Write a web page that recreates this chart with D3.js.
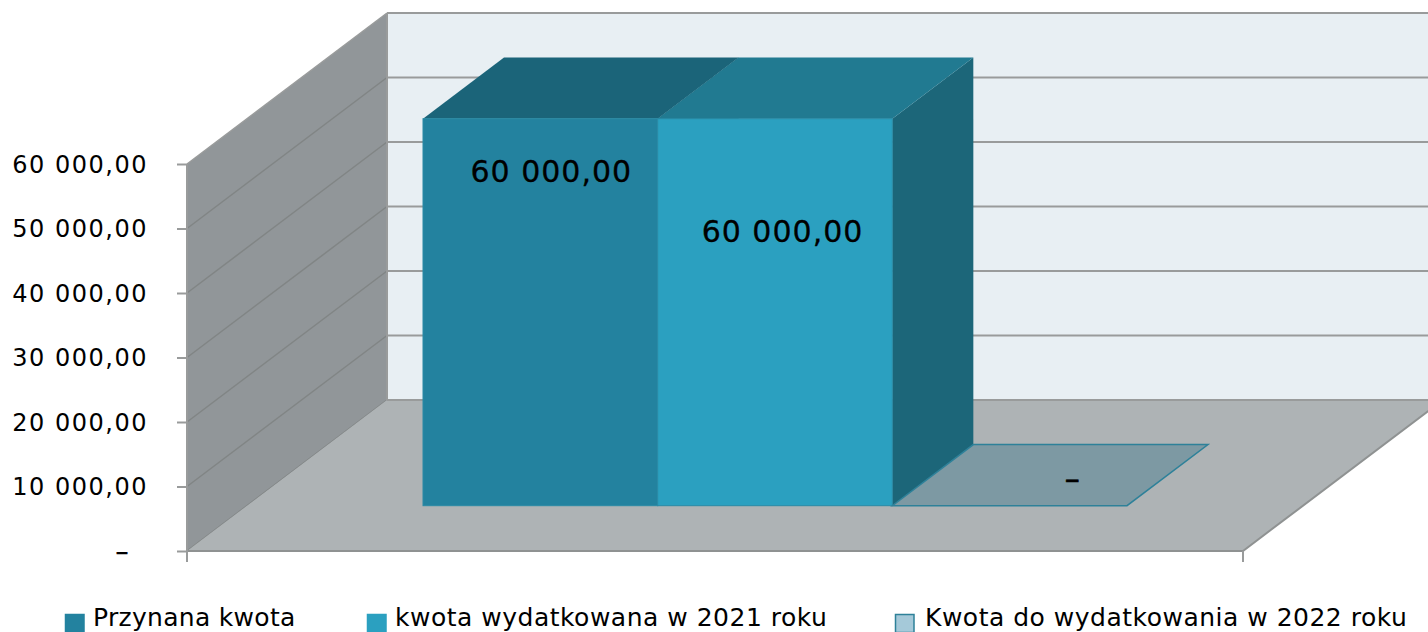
<!DOCTYPE html>
<html>
<head>
<meta charset="utf-8">
<script src="https://cdn.jsdelivr.net/npm/d3@7"></script>
<style>
  html, body { margin: 0; padding: 0; background: #fff; overflow: hidden; }
  text { font-family: "DejaVu Sans", sans-serif; fill: #000; }
</style>
</head>
<body>
<div id="chart"></div>
<script>
// data
const series = ["Przynana kwota", "kwota wydatkowana w 2021 roku", "Kwota do wydatkowania w 2022 roku"];
const values = [60000, 60000, 0];
const tickValues = [0, 10000, 20000, 30000, 40000, 50000, 60000];
const tickLabels = ["–", "10 000,00", "20 000,00", "30 000,00", "40 000,00", "50 000,00", "60 000,00"];
const valueLabels = ["60 000,00", "60 000,00", "–"];

const width = 1428, height = 632;

// the 3d box: front plane plus how far the back wall is shifted
const margin = ({top: 164, left: 187, right: 1243, bottom: 551});
const depthX = 200, depthY = -151;
const barDepthFront = 0.3, barDepthBack = 0.705;

const frontColors = ["#23829f", "#2ba0c0", "#a5c9d9"];
const topColors = ["#1b6479", "#217a91", "#7d99a3"];
const sideColor = "#1c6679";
const gridColor = "#999b9b";
const wallLineColor = "#818585";

const svg = d3.select("#chart").append("svg")
    .attr("width", width)
    .attr("height", height)
    .attr("viewBox", [0, 0, width, height])
    .style("display", "block");

const y = d3.scaleLinear().domain([0, 60000]).range([margin.bottom, margin.top]);
const x = d3.scaleBand().domain(series).range([margin.left, margin.right]).paddingOuter(0.75).paddingInner(0);

// front plane coordinate -> point at some depth (0 front, 1 back)
const pt = (px, py, d) => [px + d * depthX, py + d * depthY];
const poly = pts => pts.map(p => p.join(",")).join(" ");

// back wall
svg.append("polygon")
    .attr("points", poly([pt(margin.left, y(60000), 1), pt(margin.right + 200, y(60000), 1), pt(margin.right + 200, y(0), 1), pt(margin.left, y(0), 1)]))
    .attr("fill", "#e8eff3");

// left wall
svg.append("polygon")
    .attr("points", poly([pt(margin.left, y(60000), 0), pt(margin.left, y(60000), 1), pt(margin.left, y(0), 1), pt(margin.left, y(0), 0)]))
    .attr("fill", "#919699");

// gridlines on back wall
svg.append("g").selectAll("line")
    .data(tickValues)
    .join("line")
    .attr("x1", pt(margin.left, 0, 1)[0])
    .attr("x2", pt(margin.right + 200, 0, 1)[0])
    .attr("y1", d => pt(0, y(d), 1)[1])
    .attr("y2", d => pt(0, y(d), 1)[1])
    .attr("stroke", gridColor)
    .attr("stroke-width", 2);

// and on the left wall
svg.append("g").selectAll("line")
    .data(tickValues)
    .join("line")
    .attr("x1", pt(margin.left, 0, 0)[0])
    .attr("x2", pt(margin.left, 0, 1)[0])
    .attr("y1", d => pt(0, y(d), 0)[1])
    .attr("y2", d => pt(0, y(d), 1)[1])
    .attr("stroke", d => d === 60000 ? gridColor : wallLineColor)
    .attr("stroke-width", 1.5);

svg.append("line")
    .attr("x1", pt(margin.left, 0, 1)[0]).attr("x2", pt(margin.left, 0, 1)[0])
    .attr("y1", pt(0, y(60000), 1)[1]).attr("y2", pt(0, y(0), 1)[1])
    .attr("stroke", gridColor).attr("stroke-width", 2);

// floor
svg.append("polygon")
    .attr("points", poly([pt(margin.left, y(0), 0), pt(margin.right, y(0), 0), pt(margin.right, y(0), 1), pt(margin.left, y(0), 1)]))
    .attr("fill", "#aeb3b5");

// floor edges that show over the fill
svg.append("polyline")
    .attr("points", poly([pt(margin.left, y(0), 1), pt(margin.right, y(0), 1)]))
    .attr("fill", "none").attr("stroke", gridColor).attr("stroke-width", 2);
svg.append("polyline")
    .attr("points", poly([pt(margin.left, y(0), 0), pt(margin.right, y(0), 0), pt(margin.right, y(0), 1)]))
    .attr("fill", "none").attr("stroke", "#8f9292").attr("stroke-width", 2);

// axes
const yAxis = d3.axisLeft(y)
    .tickValues(tickValues)
    .tickFormat((d, i) => tickLabels[i])
    .tickSize(10)
    .tickPadding(29);

const gy = svg.append("g")
    .attr("transform", `translate(${margin.left},0)`)
    .call(yAxis);
gy.selectAll("line, path").attr("stroke", gridColor).attr("stroke-width", 2);
gy.select(".domain").attr("d", `M0,${y(60000)}V${y(0)}`);
gy.selectAll("text")
    .style("font-size", "24px")
    .style("letter-spacing", "1.5px")
    .attr("dy", "0.34em");
// the zero label ends short of the others, like an accounting format
gy.selectAll("text").filter(d => d === 0)
    .attr("dx", -18)
    .style("font-size", "26px")
    .style("stroke", "#000")
    .style("stroke-width", 0.4);

svg.append("g").selectAll("line")
    .data([margin.left, margin.right])
    .join("line")
    .attr("x1", d => d).attr("x2", d => d)
    .attr("y1", y(0)).attr("y2", y(0) + 11)
    .attr("stroke", gridColor).attr("stroke-width", 2);

// bars, left to right so each one covers the side of the one before
const bars = series.map((s, i) => ({s, i, v: values[i]}));
const bar = svg.append("g").selectAll("g")
    .data(bars)
    .join("g");

const corner = (d, side, val, depth) => pt(x(d.s) + (side ? x.bandwidth() : 0), y(val), depth);

// empty bar is only a flat sheet on the floor
bar.filter(d => d.v === 0).append("polygon")
    .attr("points", d => poly([corner(d, 0, 0, barDepthFront), corner(d, 1, 0, barDepthFront), corner(d, 1, 0, barDepthBack), corner(d, 0, 0, barDepthBack)]))
    .attr("fill", d => topColors[d.i])
    .attr("stroke", "#2e8199")
    .attr("stroke-width", 1.5);

const solid = bar.filter(d => d.v > 0);

solid.append("polygon")
    .attr("points", d => poly([corner(d, 1, 0, barDepthFront), corner(d, 1, 0, barDepthBack), corner(d, 1, d.v, barDepthBack), corner(d, 1, d.v, barDepthFront)]))
    .attr("fill", sideColor);

solid.append("polygon")
    .attr("points", d => poly([corner(d, 0, d.v, barDepthFront), corner(d, 1, d.v, barDepthFront), corner(d, 1, d.v, barDepthBack), corner(d, 0, d.v, barDepthBack)]))
    .attr("fill", d => topColors[d.i]);

solid.append("rect")
    .attr("x", d => corner(d, 0, d.v, barDepthFront)[0])
    .attr("y", d => corner(d, 0, d.v, barDepthFront)[1])
    .attr("width", x.bandwidth())
    .attr("height", d => y(0) - y(d.v))
    .attr("fill", d => frontColors[d.i])
    .attr("stroke", "#2a8aa5")
    .attr("stroke-width", 1);

// value labels sit at their own spot on each bar
const labelDx = [11, 7.5, 63];
const labelDy = [52, 112, -28];
svg.append("g").selectAll("text")
    .data(valueLabels)
    .join("text")
    .text(d => d)
    .attr("x", (d, i) => corner({s: series[i]}, 0, values[i], barDepthFront)[0] + x.bandwidth() / 2 + labelDx[i])
    .attr("y", (d, i) => corner({s: series[i]}, 0, values[i], barDepthFront)[1] + labelDy[i])
    .attr("dy", "0.36em")
    .attr("text-anchor", "middle")
    .style("font-size", "30px")
    .style("letter-spacing", "1px")
    .style("stroke", "#000")
    .style("stroke-width", (d, i) => values[i] === 0 ? 0.6 : 0.3);

// legend
const legendX = [65, 367, 895];
const legendTextX = [28, 28, 30];
const legendSpacing = [0.3, 0.5, 0.5];
const legend = svg.append("g").selectAll("g")
    .data(series)
    .join("g")
    .attr("transform", (d, i) => `translate(${legendX[i]},614)`);

legend.append("rect")
    .attr("x", 0.5).attr("y", 0.5)
    .attr("width", 18.5).attr("height", 18)
    .attr("fill", (d, i) => frontColors[i])
    .attr("stroke", (d, i) => i === 2 ? "#2e8199" : frontColors[i])
    .attr("stroke-width", 1.5);

legend.append("text")
    .text(d => d)
    .attr("x", (d, i) => legendTextX[i])
    .attr("y", 12)
    .style("font-size", "25px")
    .style("letter-spacing", (d, i) => legendSpacing[i] + "px");
</script>
</body>
</html>
